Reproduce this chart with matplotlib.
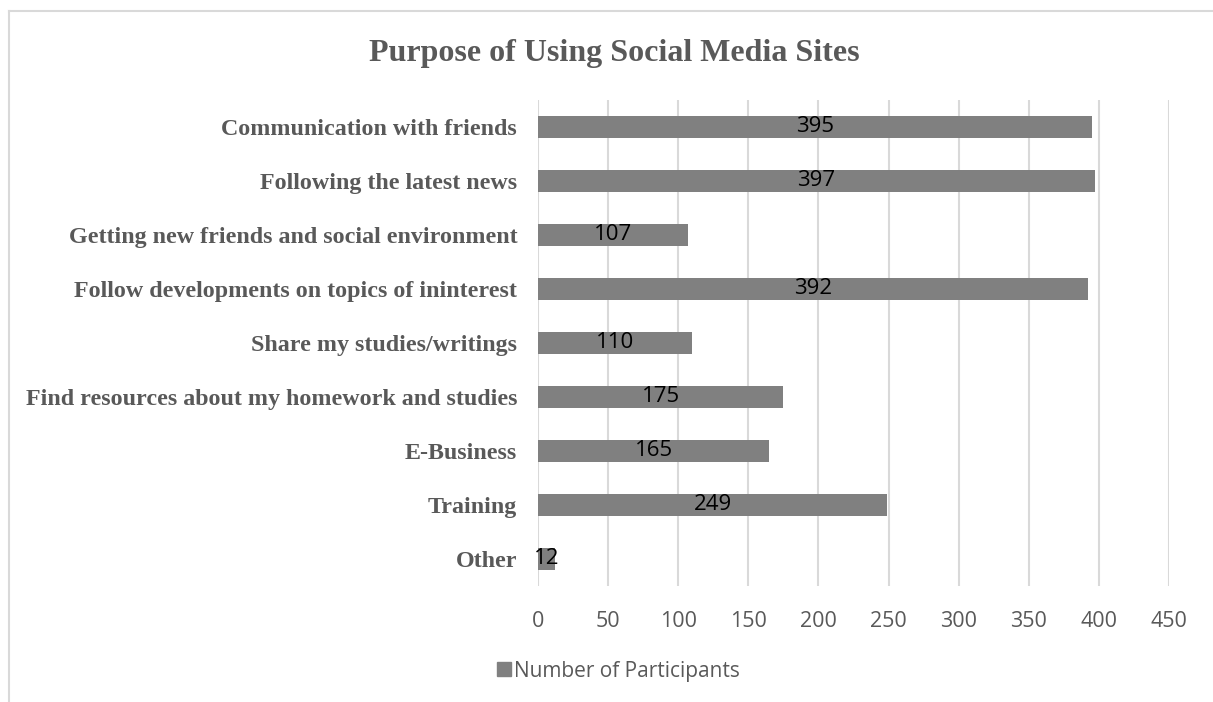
import matplotlib.pyplot as plt
from matplotlib.lines import Line2D

# data
categories = [
    "Communication with friends",
    "Following the latest news",
    "Getting new friends and social environment",
    "Follow developments on topics of ininterest",
    "Share my studies/writings",
    "Find resources about my homework and studies",
    "E-Business",
    "Training",
    "Other",
]
participants = [395, 397, 107, 392, 110, 175, 165, 249, 12]
xticks = [0, 50, 100, 150, 200, 250, 300, 350, 400, 450]

bar_color = "#808080"
text_gray = "#595959"
grid_color = "#d9d9d9"
serif = ["Liberation Serif", "DejaVu Serif"]
sans = ["Open Sans", "DejaVu Sans"]

fig = plt.figure(figsize=(12.13, 7.02), dpi=100)
ax = fig.add_axes([538 / 1213, 1 - 586 / 702, 631 / 1213, 486 / 702])

ypos = list(range(len(categories)))
bars = ax.barh(ypos, participants, height=0.41, color=bar_color, zorder=3,
               label="Number of Participants")
ax.set_ylim(len(categories) - 0.5, -0.5)
ax.set_xlim(0, 450)
ax.set_xticks(xticks)
ax.set_xticklabels([str(t) for t in xticks], family=sans, fontsize=15.5,
                   color=text_gray)
ax.set_yticks(ypos)
ax.set_yticklabels(categories, family=serif, fontsize=17.3, fontweight="bold",
                   color=text_gray)
ax.tick_params(axis="x", length=0, pad=18)
ax.tick_params(axis="y", length=0, pad=15)
ax.grid(axis="x", color=grid_color, linewidth=1.5, zorder=0)
for s in ax.spines.values():
    s.set_visible(False)

for b, v in zip(bars, participants):
    ax.text(v / 2, b.get_y() + b.get_height() / 2, str(v), ha="center",
            va="center", family=sans, fontsize=16, color="black", zorder=4)

fig.text(614 / 1213, 1 - 53 / 702, "Purpose of Using Social Media Sites",
         ha="center", va="center", family=serif, fontsize=23,
         fontweight="bold", color=text_gray)

handle = Line2D([], [], marker="s", linestyle="none", markersize=10,
                color=bar_color)
fig.legend([handle], ["Number of Participants"], loc="center",
           bbox_to_anchor=(617 / 1213, 1 - 671 / 702), frameon=False,
           prop={"family": sans, "size": 15}, labelcolor=text_gray,
           handletextpad=0.0, handlelength=1.0)

# outer chart border (top and left edges visible)
fig.add_artist(Line2D([9 / 1213, 9 / 1213], [0, 1 - 11 / 702],
                      transform=fig.transFigure, color=grid_color, linewidth=1.5))
fig.add_artist(Line2D([9 / 1213, 1], [1 - 11 / 702, 1 - 11 / 702],
                      transform=fig.transFigure, color=grid_color, linewidth=1.5))

fig.savefig("out.png", dpi=100)
